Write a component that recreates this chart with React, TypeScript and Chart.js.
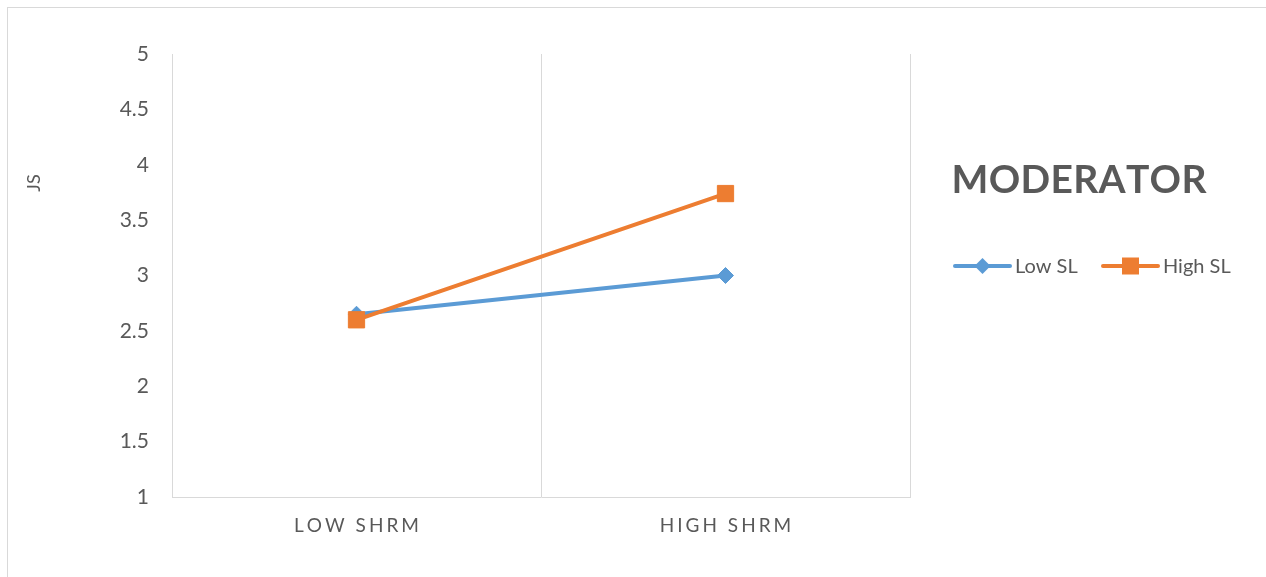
import React, { useEffect, useRef } from 'react';
import { Chart, registerables } from 'chart.js';

Chart.register(...registerables);

const categories = ['LOW SHRM', 'HIGH SHRM'];
const seriesNames = ['Low SL', 'High SL'];
const lowSL = [2.65, 3.0];
const highSL = [2.6, 3.74];
const yMin = 1;
const yMax = 5;
const yStep = 0.5;
const yTitle = 'JS';
const legendTitle = 'MODERATOR';

const BLUE = '#5B9BD5';
const ORANGE = '#ED7D31';
const TEXT = '#595959';
const GRID = '#D9D9D9';
const FONT = 'Lato, "Open Sans", sans-serif';

function drawSpaced(ctx: CanvasRenderingContext2D, text: string, cx: number, y: number, spacing: number) {
  const chars = Array.from(text);
  const widths = chars.map((c) => ctx.measureText(c).width);
  const total = widths.reduce((a, b) => a + b, 0) + spacing * (chars.length - 1);
  let x = cx - total / 2;
  ctx.textAlign = 'left';
  chars.forEach((c, i) => {
    ctx.fillText(c, x, y);
    x += widths[i] + spacing;
  });
}

function drawMarker(ctx: CanvasRenderingContext2D, style: string, x: number, y: number, r: number, color: string) {
  ctx.fillStyle = color;
  ctx.beginPath();
  if (style === 'rectRot') {
    ctx.moveTo(x, y - r);
    ctx.lineTo(x + r, y);
    ctx.lineTo(x, y + r);
    ctx.lineTo(x - r, y);
  } else {
    ctx.rect(x - r, y - r, 2 * r, 2 * r);
  }
  ctx.closePath();
  ctx.fill();
}

const decor = {
  id: 'decor',
  afterDraw(chart: any) {
    const ctx: CanvasRenderingContext2D = chart.ctx;
    const xs = chart.scales.x;
    ctx.save();
    ctx.fillStyle = TEXT;
    ctx.textBaseline = 'alphabetic';

    // category labels
    ctx.font = `19px ${FONT}`;
    categories.forEach((c, i) => {
      drawSpaced(ctx, c, xs.getPixelForValue(i), 524, 3);
    });

    // y title
    ctx.save();
    ctx.translate(26, 175);
    ctx.rotate(-Math.PI / 2);
    ctx.font = `18px ${FONT}`;
    ctx.textAlign = 'center';
    ctx.textBaseline = 'middle';
    ctx.fillText(yTitle, 0, 0);
    ctx.restore();

    // legend title
    ctx.fillStyle = TEXT;
    ctx.font = `bold 39px ${FONT}`;
    drawSpaced(ctx, legendTitle, 1071, 185, 0.3);

    // legend items
    const items = [
      { name: seriesNames[0], color: BLUE, style: 'rectRot', x0: 947, r: 8 },
      { name: seriesNames[1], color: ORANGE, style: 'rect', x0: 1095, r: 8.5 },
    ];
    ctx.font = `20px ${FONT}`;
    items.forEach((it) => {
      ctx.strokeStyle = it.color;
      ctx.lineWidth = 4;
      ctx.lineCap = 'round';
      ctx.beginPath();
      ctx.moveTo(it.x0, 258);
      ctx.lineTo(it.x0 + 55, 258);
      ctx.stroke();
      drawMarker(ctx, it.style, it.x0 + 27.5, 258, it.r, it.color);
      ctx.fillStyle = TEXT;
      ctx.textAlign = 'left';
      ctx.fillText(it.name, it.x0 + 60, 265);
    });
    ctx.restore();
  },
};

export default function App() {
  const ref = useRef<HTMLCanvasElement | null>(null);

  useEffect(() => {
    if (!ref.current) return;
    const chart = new Chart(ref.current, {
      type: 'line',
      data: {
        labels: categories,
        datasets: [
          {
            label: seriesNames[0],
            data: lowSL,
            borderColor: BLUE,
            backgroundColor: BLUE,
            borderWidth: 4,
            borderCapStyle: 'round',
            pointStyle: 'rectRot',
            pointRadius: 8,
            pointBorderWidth: 1,
            pointBorderColor: BLUE,
            pointBackgroundColor: BLUE,
            tension: 0,
            order: 1,
          },
          {
            label: seriesNames[1],
            data: highSL,
            borderColor: ORANGE,
            backgroundColor: ORANGE,
            borderWidth: 4,
            borderCapStyle: 'round',
            pointStyle: 'rect',
            pointRadius: 11.5,
            pointBorderWidth: 1,
            pointBorderColor: ORANGE,
            pointBackgroundColor: ORANGE,
            tension: 0,
            order: 0,
          },
        ],
      },
      options: {
        animation: false,
        responsive: true,
        maintainAspectRatio: false,
        layout: { padding: { top: 46, right: 356, left: 0, bottom: 0 } },
        plugins: {
          legend: { display: false },
          tooltip: { enabled: false },
          title: { display: false },
        },
        scales: {
          x: {
            type: 'category',
            offset: true,
            grid: { offset: true, color: GRID, lineWidth: 1, drawTicks: false },
            border: { color: GRID, width: 1 },
            ticks: { display: false },
            afterFit: (s: any) => {
              s.height = 80;
            },
          },
          y: {
            min: yMin,
            max: yMax,
            ticks: {
              stepSize: yStep,
              color: TEXT,
              font: { family: FONT, size: 21 },
              padding: 23,
              callback: (v: any) => String(Number(v)),
            },
            grid: { display: false, drawTicks: false },
            border: { display: false },
            afterFit: (s: any) => {
              s.width = 164;
            },
          },
        },
      },
      plugins: [decor],
    } as any);
    return () => chart.destroy();
  }, []);

  return (
    <>
      <div
        style={{
          position: 'fixed',
          left: 7,
          top: 7,
          width: 1270,
          height: 580,
          border: `1px solid ${GRID}`,
          pointerEvents: 'none',
        }}
      />
      <div style={{ position: 'relative', width: 1258, height: 569 }}>
        <canvas ref={ref} style={{ display: 'block' }} />
      </div>
    </>
  );
}
